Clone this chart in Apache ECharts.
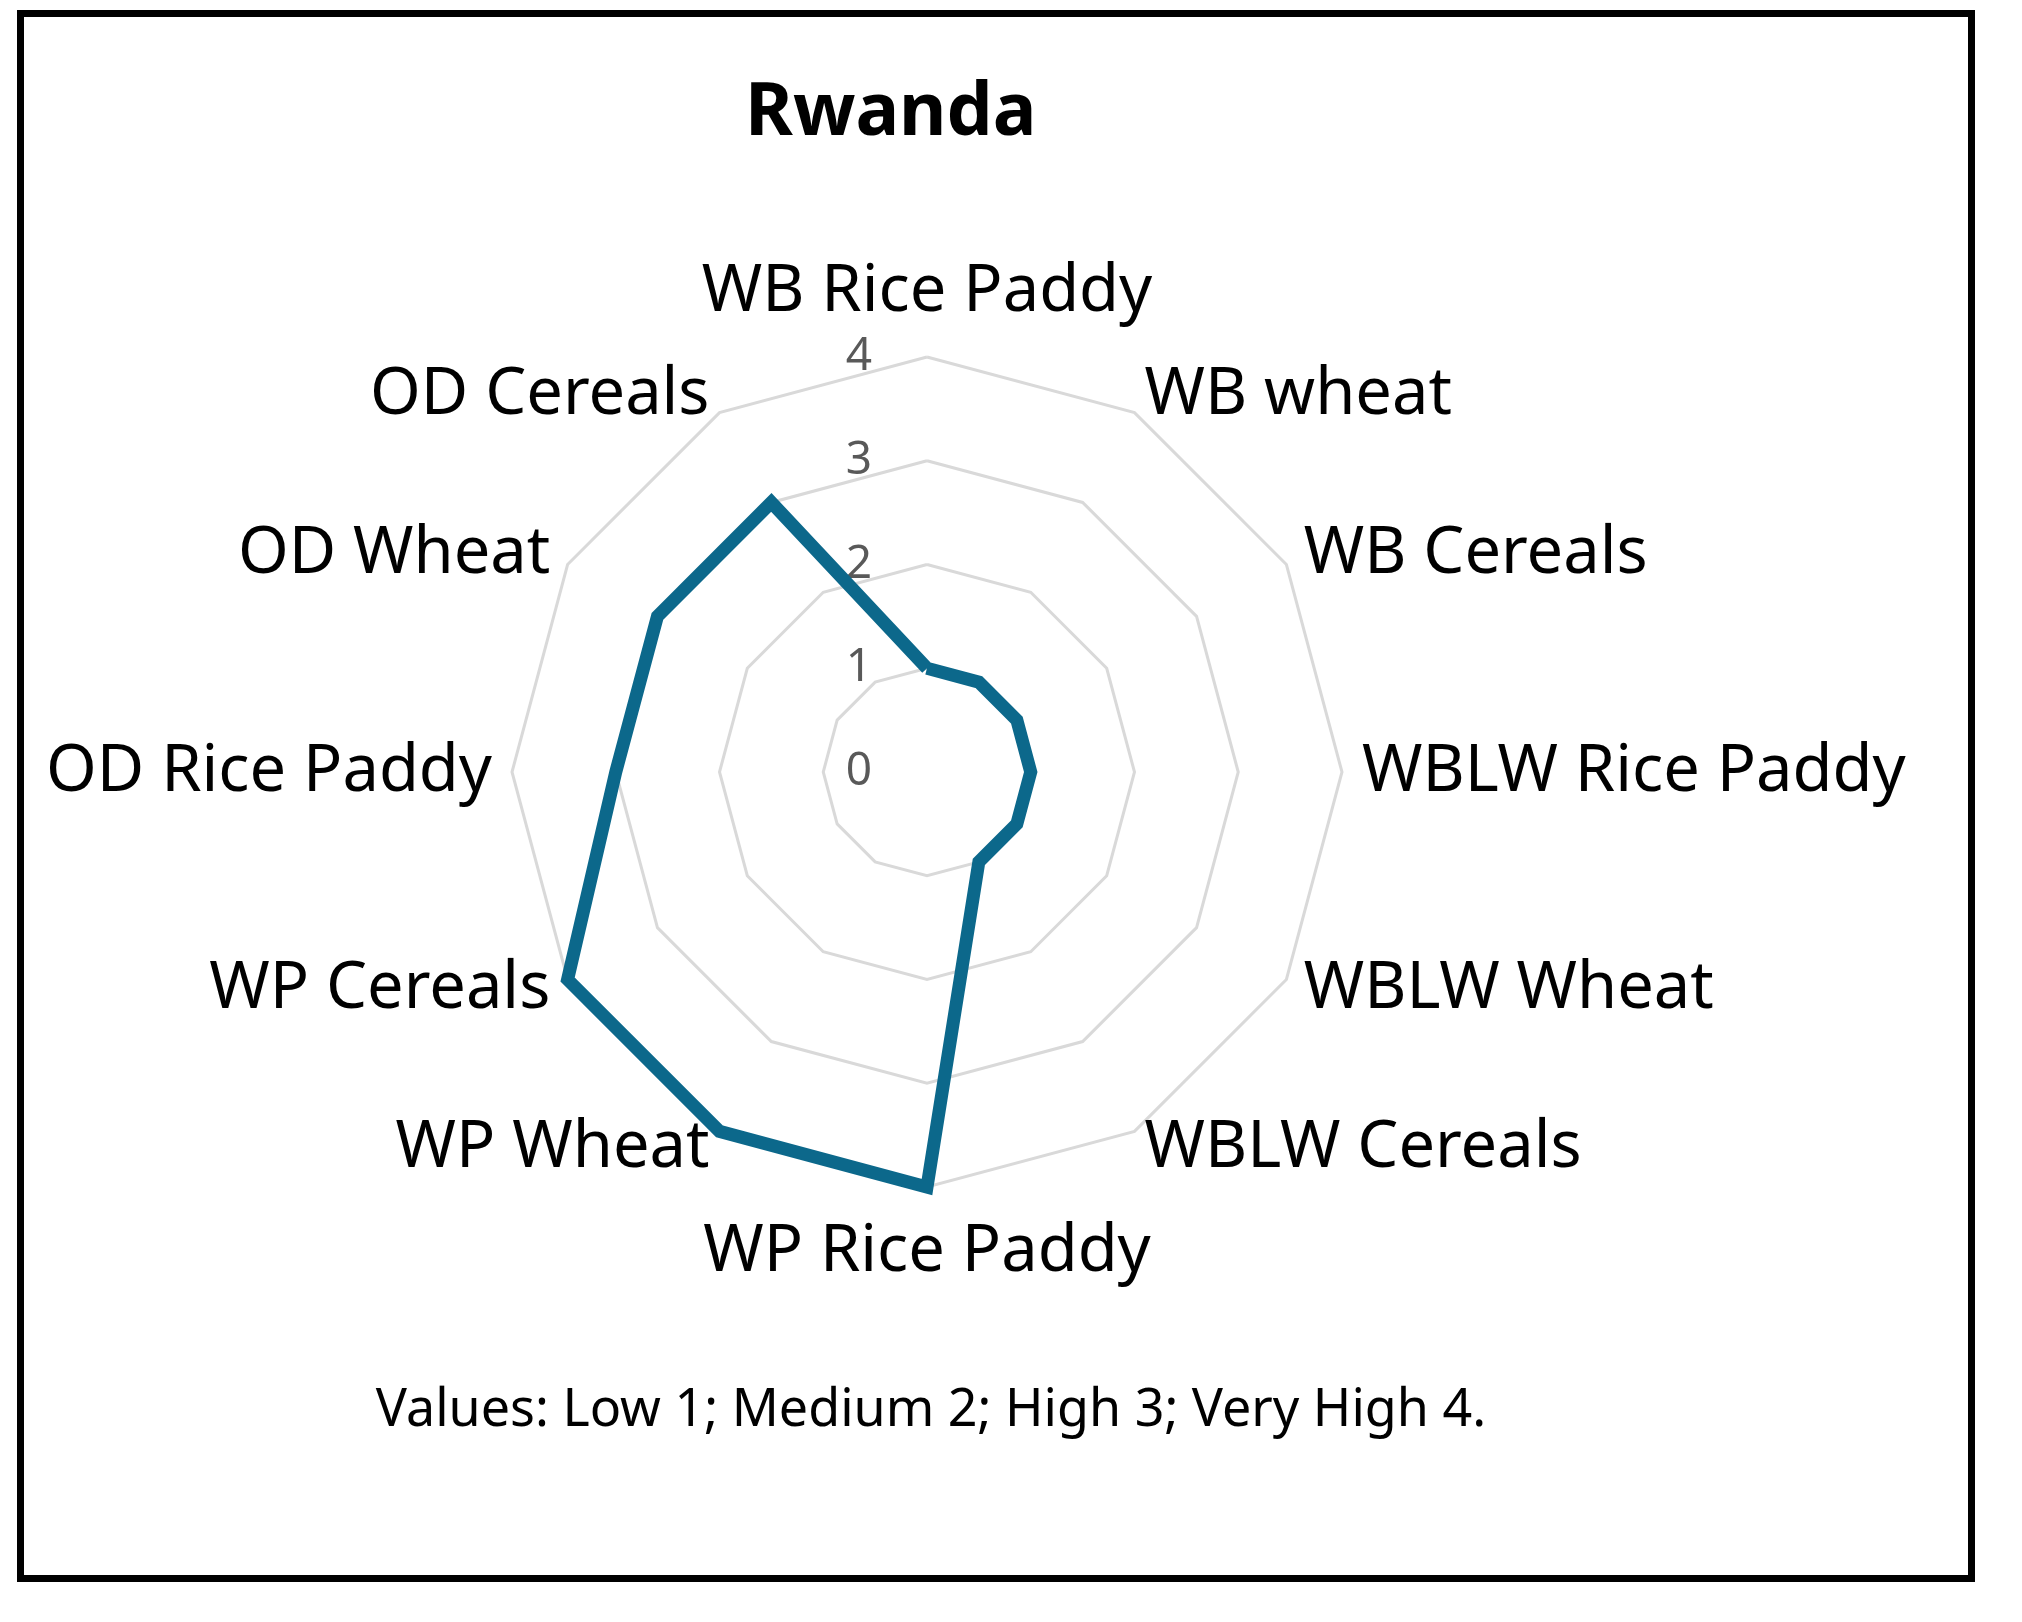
<!DOCTYPE html>
<html><head><meta charset="utf-8">
<script src="https://cdn.jsdelivr.net/npm/echarts@6/dist/echarts.min.js"></script>
<style>html,body{margin:0;padding:0;background:#fff}#c{width:2022px;height:1622px}</style>
</head><body><div id="c"></div>
<script>
// Categories listed clockwise from the top
const categories = ['WB Rice Paddy','WB wheat','WB Cereals','WBLW Rice Paddy','WBLW Wheat','WBLW Cereals','WP Rice Paddy','WP Wheat','WP Cereals','OD Rice Paddy','OD Wheat','OD Cereals'];
const values = [1,1,1,1,1,1,4,4,4,3,3,3];
const ringMax = 4;
const titleText = 'Rwanda';
const noteText = 'Values: Low 1; Medium 2; High 3; Very High 4.';

const FONT = '"Noto Sans", sans-serif';
const CX = 927, CY = 772, R = 415;

// ECharts lays radar indicators out counter-clockwise; reorder so they read clockwise
const order = [0].concat(categories.map((c, i) => i).slice(1).reverse());
const indicators = order.map(i => ({ name: categories[i], min: 0, max: ringMax }));
const seriesValues = order.map(i => values[i]);
const topName = categories[0];
const bottomName = categories[6];
const nameStyle = { color: '#000000', fontFamily: FONT, fontSize: 65 };

const chart = echarts.init(document.getElementById('c'), null, { renderer: 'canvas' });
chart.setOption({
  backgroundColor: '#ffffff',
  animation: false,
  title: {
    text: titleText,
    left: 745, top: 78, padding: 0,
    textStyle: { fontFamily: FONT, fontSize: 73, fontWeight: 'bold', color: '#000000' }
  },
  radar: {
    center: [CX, CY],
    radius: R,
    startAngle: 90,
    splitNumber: 4,
    shape: 'polygon',
    indicator: indicators,
    axisName: Object.assign({}, nameStyle, {
      formatter: function (name) {
        if (name === topName) return '{t|' + name + '}';
        if (name === bottomName) return '{b|' + name + '}';
        return name;
      },
      rich: {
        t: Object.assign({}, nameStyle, { padding: [0, 0, 12, 0] }),
        b: Object.assign({}, nameStyle, { padding: [13, 0, 0, 0] })
      }
    }),
    nameGap: 20,
    axisLine: { show: false },
    axisTick: { show: false },
    axisLabel: { show: false },
    splitArea: { show: false },
    splitLine: { lineStyle: { color: '#d9d9d9', width: 3 } }
  },
  grid: { left: CX, top: CY - R, width: 1, height: R, containLabel: false },
  xAxis: { type: 'value', show: false },
  yAxis: {
    type: 'value', min: 0, max: ringMax, interval: 1,
    axisLine: { show: false }, axisTick: { show: false }, splitLine: { show: false },
    axisLabel: { color: '#595959', fontFamily: FONT, fontSize: 46, margin: 55 }
  },
  series: [{
    type: 'radar',
    symbol: 'none',
    lineStyle: { color: '#0c688b', width: 13, join: 'miter' },
    data: [{ value: seriesValues, name: titleText }]
  }],
  graphic: [
    { type: 'rect', shape: { x: 20.5, y: 13.5, width: 1951, height: 1565 },
      style: { fill: 'none', stroke: '#000000', lineWidth: 7 }, z: 100 },
    { type: 'text', x: 931, y: 1411,
      style: { text: noteText, fill: '#000000', font: '52px "Noto Sans", sans-serif', align: 'center', verticalAlign: 'middle' } }
  ]
});
</script></body></html>
